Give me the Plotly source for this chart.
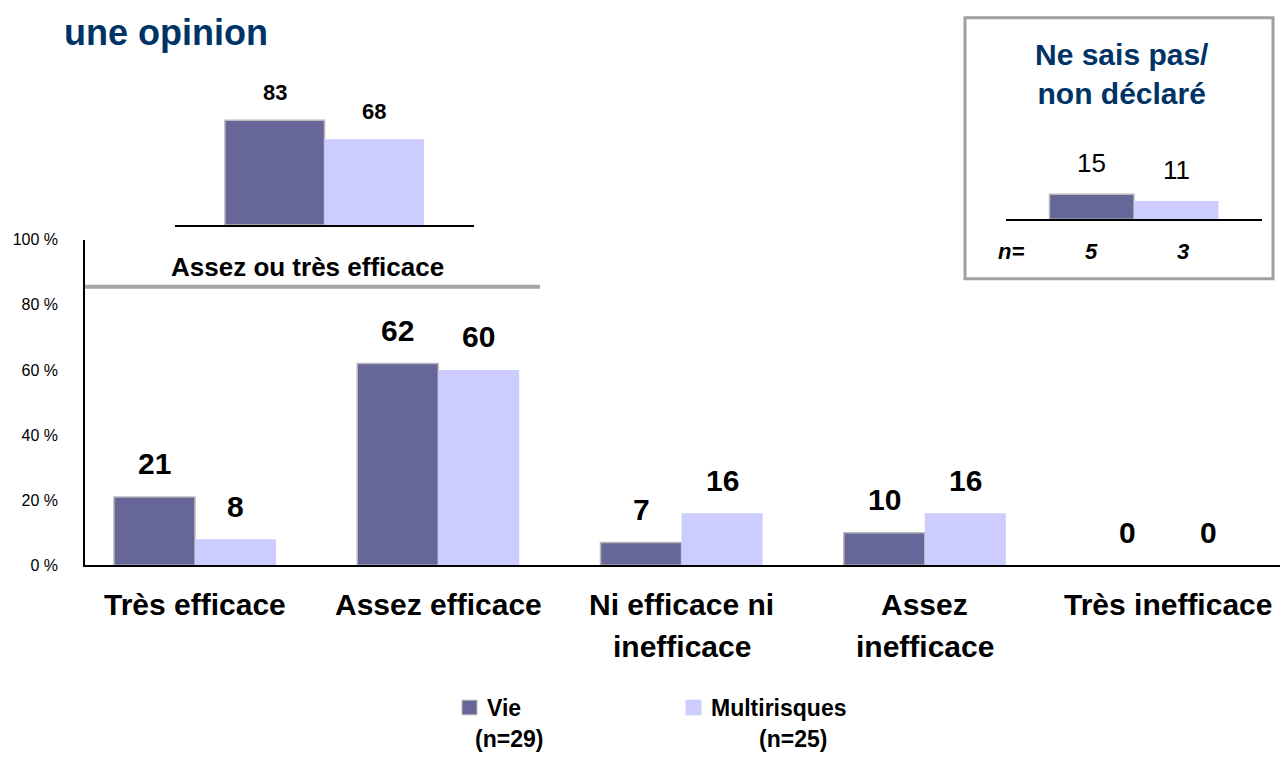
import plotly.graph_objects as go

# ---------------- data ----------------
categories = ["Très efficace", "Assez efficace", "Ni efficace ni\ninefficace", "Assez\ninefficace", "Très inefficace"]
vie = [21, 62, 7, 10, 0]
multi = [8, 60, 16, 16, 0]
y_ticks = [0, 20, 40, 60, 80, 100]
y_tick_labels = ["0 %", "20 %", "40 %", "60 %", "80 %", "100 %"]

series_names = ["Vie", "Multirisques"]
series_n = ["(n=29)", "(n=25)"]

top2_label = "Assez ou très efficace"
top2_vie = [83]
top2_multi = [68]

nsp_title = "Ne sais pas/\nnon déclaré"
nsp_vie = [15]
nsp_multi = [11]
nsp_n_label = "n="
nsp_n = [5, 3]

title_text = "une opinion"

# ---------------- style ----------------
W, H = 1280, 760
VIE_COLOR = "#666699"
MULTI_COLOR = "#CCCCFF"
VIE_EDGE = "#b8b8b8"
NAVY = "#003366"
GRAY = "#a6a6a6"
FONT = "Arial, Liberation Sans, sans-serif"
BW = 0.333


def px(x):
    """page pixel x -> paper fraction"""
    return x / W


def py(y):
    """page pixel y (from top) -> paper fraction"""
    return 1 - y / H


def ann(**kw):
    kw.setdefault("showarrow", False)
    kw.setdefault("xanchor", "center")
    kw.setdefault("yanchor", "middle")
    return kw


fig = go.Figure()

# main bars
idx = list(range(len(categories)))
fig.add_trace(go.Bar(x=idx, y=vie, width=BW, offset=-BW, name=series_names[0],
                     marker=dict(color=VIE_COLOR,
                                 line=dict(color=VIE_EDGE, width=[1.5 if v > 0 else 0 for v in vie])),
                     xaxis="x", yaxis="y", showlegend=False))
fig.add_trace(go.Bar(x=idx, y=multi, width=BW, offset=0, name=series_names[1],
                     marker=dict(color=MULTI_COLOR, line=dict(width=0)),
                     xaxis="x", yaxis="y", showlegend=False))

# top-2 inset bars
fig.add_trace(go.Bar(x=[0], y=top2_vie, width=BW, offset=-BW, name=series_names[0],
                     marker=dict(color=VIE_COLOR, line=dict(color=VIE_EDGE, width=1.5)),
                     xaxis="x2", yaxis="y2", showlegend=False))
fig.add_trace(go.Bar(x=[0], y=top2_multi, width=BW, offset=0, name=series_names[1],
                     marker=dict(color=MULTI_COLOR, line=dict(width=0)),
                     xaxis="x2", yaxis="y2", showlegend=False))

# ne sais pas inset bars
fig.add_trace(go.Bar(x=[0], y=nsp_vie, width=0.33, offset=-0.33, name=series_names[0],
                     marker=dict(color=VIE_COLOR, line=dict(color=VIE_EDGE, width=1.5)),
                     xaxis="x3", yaxis="y3", showlegend=False))
fig.add_trace(go.Bar(x=[0], y=nsp_multi, width=0.33, offset=0, name=series_names[1],
                     marker=dict(color=MULTI_COLOR, line=dict(width=0)),
                     xaxis="x3", yaxis="y3", showlegend=False))

annotations = []
BOLD = dict(family=FONT, color="black", weight="bold")

# main data labels
for i, (a, b) in enumerate(zip(vie, multi)):
    annotations.append(ann(x=i - BW / 2, y=a, xref="x", yref="y", text=str(a), yshift=33,
                           font=dict(size=30, **BOLD)))
    annotations.append(ann(x=i + BW / 2, y=b, xref="x", yref="y", text=str(b), yshift=33,
                           font=dict(size=30, **BOLD)))

# category labels (line by line, wide spacing)
for i, cat in enumerate(categories):
    for k, line in enumerate(cat.split("\n")):
        annotations.append(ann(x=i, y=py(610 + 43 * k), xref="x", yref="paper", text=line,
                               font=dict(size=30, **BOLD)))

# top-2 inset labels
for v, dx in ((top2_vie[0], -BW / 2), (top2_multi[0], BW / 2)):
    annotations.append(ann(x=dx, y=v, xref="x2", yref="y2", text=str(v), yshift=28,
                           font=dict(size=22, **BOLD)))
annotations.append(ann(x=px(307), y=py(265), xref="paper", yref="paper", text=top2_label,
                       font=dict(size=26, **BOLD)))

# nsp inset
annotations.append(ann(x=px(1122), y=py(67), xref="paper", yref="paper",
                       text=nsp_title.replace("\n", "<br>"),
                       font=dict(size=30, family=FONT, color=NAVY, weight="bold")))
for v, dx in ((nsp_vie[0], -0.165), (nsp_multi[0], 0.165)):
    annotations.append(ann(x=dx, y=v, xref="x3", yref="y3", text=str(v), yshift=31,
                           font=dict(size=26, family=FONT, color="black")))
annotations.append(ann(x=px(1011), y=py(249), xref="paper", yref="paper", text=nsp_n_label,
                       font=dict(size=22, style="italic", **BOLD)))
for n, dx in zip(nsp_n, (-0.165, 0.19)):
    annotations.append(ann(x=dx, y=py(249), xref="x3", yref="paper", text=str(n),
                           font=dict(size=22, style="italic", **BOLD)))

# title
annotations.append(ann(x=px(62), y=py(25), xref="paper", yref="paper", text=title_text,
                       xanchor="left", font=dict(size=36, family=FONT, color=NAVY, weight="bold")))

# manual legend
legend_pos = [(462, 509), (686, 793)]
colors = [VIE_COLOR, MULTI_COLOR]
shapes = []
for (sx, nx), name, nlab, col in zip(legend_pos, series_names, series_n, colors):
    shapes.append(dict(type="rect", xref="paper", yref="paper", x0=px(sx), x1=px(sx + 15),
                       y0=py(723), y1=py(708), fillcolor=col,
                       line=dict(color=VIE_EDGE if col == VIE_COLOR else col, width=1)))
    annotations.append(ann(x=px(sx + 23), y=py(716), xref="paper", yref="paper", text=name,
                           xanchor="left", font=dict(size=23, **BOLD)))
    annotations.append(ann(x=px(nx), y=py(748), xref="paper", yref="paper", text=nlab,
                           font=dict(size=23, **BOLD)))

# gray separator under "Assez ou très efficace"
shapes.append(dict(type="line", xref="paper", yref="paper", x0=px(85), x1=px(540),
                   y0=py(285), y1=py(285), line=dict(color=GRAY, width=4)))
# box around "ne sais pas"
shapes.append(dict(type="rect", xref="paper", yref="paper", x0=px(965), x1=px(1273),
                   y0=py(277), y1=py(10), line=dict(color="#a0a0a0", width=3)))

fig.update_layout(
    width=W, height=H,
    margin=dict(l=0, r=0, t=0, b=0),
    paper_bgcolor="white", plot_bgcolor="rgba(0,0,0,0)",
    barmode="overlay",
    showlegend=False,
    font=dict(family=FONT, color="black"),
    annotations=annotations,
    shapes=shapes,
    xaxis=dict(domain=[px(85), 1.0], range=[-0.452, 4.46], showline=True,
               linecolor="black", linewidth=2, showticklabels=False, showgrid=False,
               zeroline=False, ticks="", fixedrange=True),
    yaxis=dict(domain=[py(570), py(237)], range=[0, 100], tickmode="array", tickvals=y_ticks,
               ticktext=y_tick_labels,
               showline=True, linecolor="black", linewidth=1.5, showgrid=False, zeroline=False,
               ticks="", ticklabelstandoff=22, tickfont=dict(size=16, family=FONT, color="black"),
               fixedrange=True),
    xaxis2=dict(domain=[px(175), px(474)], range=[-0.5, 0.5], anchor="y2", showline=True,
                linecolor="black", linewidth=2, showticklabels=False, showgrid=False,
                zeroline=False, ticks=""),
    yaxis2=dict(domain=[py(222), py(93)], range=[0, 100], anchor="x2", visible=False),
    xaxis3=dict(domain=[px(1006), px(1262)], range=[-0.5, 0.5], anchor="y3", showline=True,
                linecolor="black", linewidth=2, showticklabels=False, showgrid=False,
                zeroline=False, ticks=""),
    yaxis3=dict(domain=[py(216), py(46)], range=[0, 100], anchor="x3", visible=False),
)

fig.write_html("out.html", config={"displayModeBar": False},
               post_script="document.body.style.margin='0';document.body.style.overflow='hidden';")
